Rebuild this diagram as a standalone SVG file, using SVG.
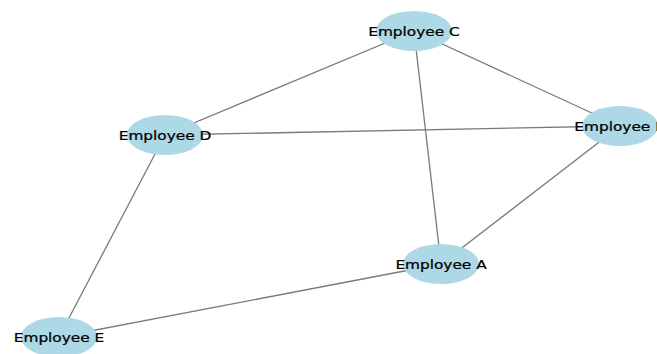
<svg xmlns="http://www.w3.org/2000/svg" width="657" height="354" viewBox="0 0 657 354">
  <style>
    .edge { stroke: #7a7a7a; stroke-width: 1.3; fill: none; }
    .node ellipse { fill: #add8e6; }
    .node text { font-family: "DejaVu Sans", sans-serif; font-size: 13px; fill: #000; stroke: #000; stroke-width: 0.25; text-anchor: middle; dominant-baseline: central; }
  </style>
  <rect width="657" height="354" fill="#ffffff"/>
  <g id="edges">
    <line class="edge" x1="414" y1="31" x2="165" y2="135"/>
    <line class="edge" x1="414" y1="31" x2="620" y2="126"/>
    <line class="edge" x1="414" y1="31" x2="441" y2="264"/>
    <line class="edge" x1="165" y1="135" x2="620" y2="126"/>
    <line class="edge" x1="165" y1="135" x2="59" y2="337"/>
    <line class="edge" x1="620" y1="126" x2="441" y2="264"/>
    <line class="edge" x1="441" y1="264" x2="59" y2="337"/>
  </g>
  <g id="employee-c" class="node">
    <ellipse cx="414" cy="31" rx="38" ry="20"/>
    <text transform="translate(414 31) scale(1.18 1)">Employee C</text>
  </g>
  <g id="employee-d" class="node">
    <ellipse cx="165" cy="135" rx="38" ry="20"/>
    <text transform="translate(165 135) scale(1.18 1)">Employee D</text>
  </g>
  <g id="employee-b" class="node">
    <ellipse cx="620" cy="126" rx="38" ry="20"/>
    <text transform="translate(620 126) scale(1.18 1)">Employee B</text>
  </g>
  <g id="employee-a" class="node">
    <ellipse cx="441" cy="264" rx="38" ry="20"/>
    <text transform="translate(441 264) scale(1.18 1)">Employee A</text>
  </g>
  <g id="employee-e" class="node">
    <ellipse cx="59" cy="337" rx="38" ry="20"/>
    <text transform="translate(59 337) scale(1.18 1)">Employee E</text>
  </g>
</svg>
